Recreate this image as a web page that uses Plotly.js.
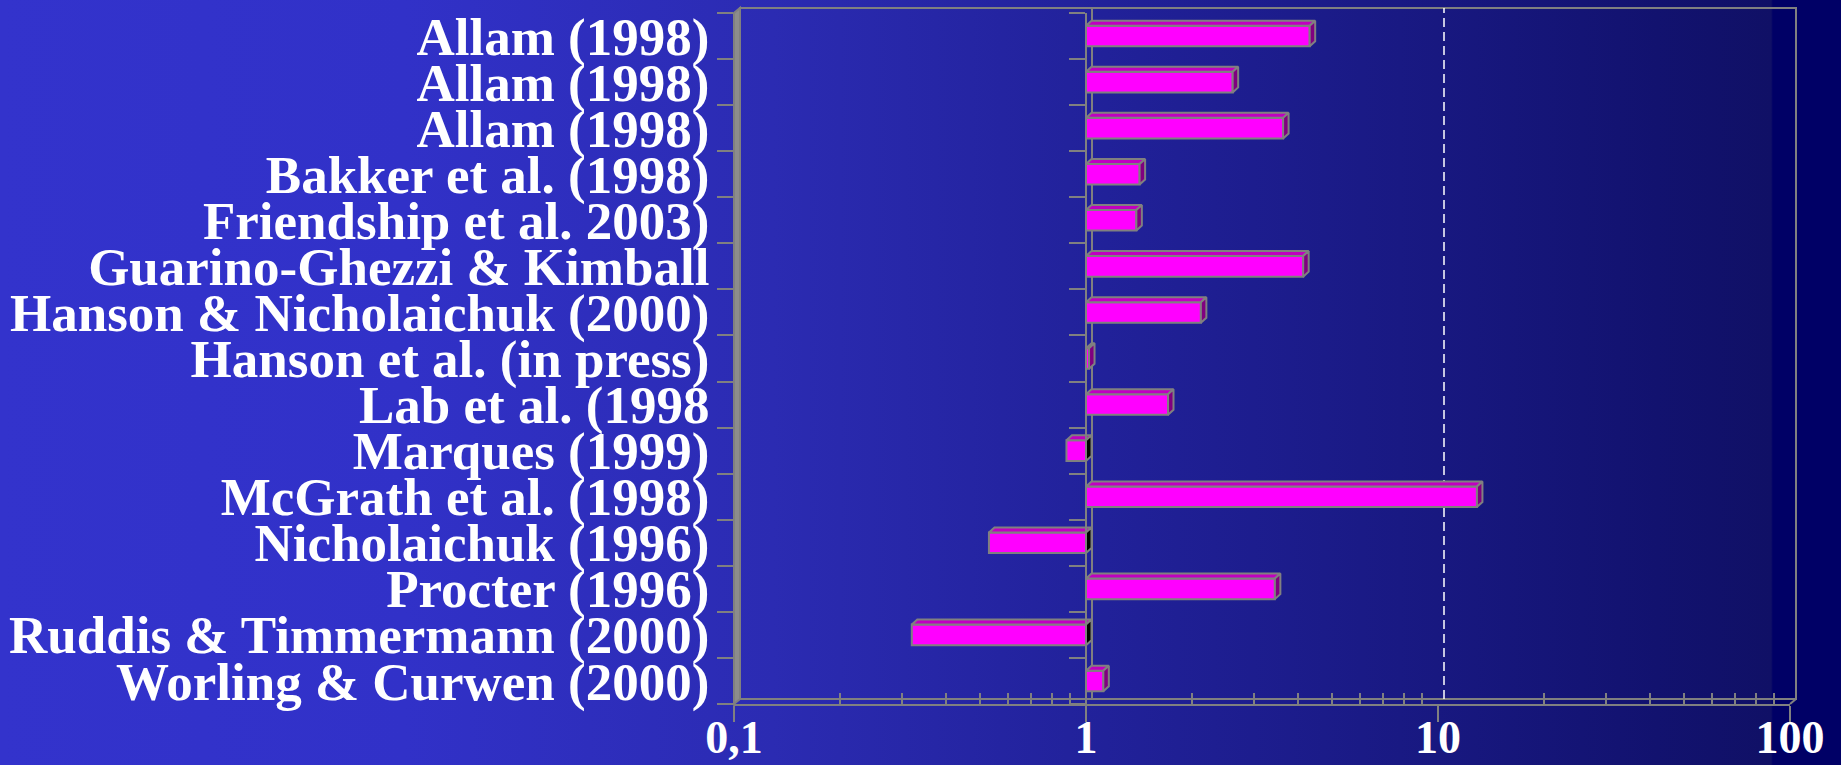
<!DOCTYPE html>
<html>
<head>
<meta charset="utf-8">
<script src="https://cdn.plot.ly/plotly-3.0.1.min.js"></script>
<style>
html, body { margin: 0; padding: 0; width: 1841px; height: 765px; overflow: hidden;
  background: linear-gradient(to right, #3333cc 0%, #3131c8 22%, #2b2bb2 42%, #22229c 58%, #1a1a86 74%, #12126f 90%, #101066 96.2%, #000066 96.3%, #000066 100%); }
#chart { width: 1841px; height: 765px; }
</style>
</head>
<body>
<div id="chart"></div>
<script>
// ---------------- data ----------------
const categories = [
  "Allam (1998)",
  "Allam (1998)",
  "Allam (1998)",
  "Bakker et al. (1998)",
  "Friendship et al. 2003)",
  "Guarino-Ghezzi & Kimball",
  "Hanson & Nicholaichuk (2000)",
  "Hanson et al. (in press)",
  "Lab et al. (1998",
  "Marques (1999)",
  "McGrath et al. (1998)",
  "Nicholaichuk (1996)",
  "Procter (1996)",
  "Ruddis & Timmermann (2000)",
  "Worling & Curwen (2000)"
];
const ratios = [4.32, 2.61, 3.63, 1.42, 1.39, 4.14, 2.12, 1.02, 1.71, 0.88, 12.9, 0.53, 3.44, 0.32, 1.12];
const baseline = 1;
const xTickVals = [0.1, 1, 10, 100];
const xTickText = ["0,1", "1", "10", "100"];
const gridValue = 10;

// ---------------- style / geometry ----------------
const GRAY = '#808080';
const FONT = '"Liberation Serif", "Times New Roman", Times, serif';
const M = { l: 734, r: 51, t: 13, b: 61, pad: 0 };
const PW = 1841 - M.l - M.r, PH = 765 - M.t - M.b;
const xRange = [-1, 2];
const pxPerDecade = PW / (xRange[1] - xRange[0]);
const rowPx = PH / categories.length;
const barWidth = 0.447;
const barDepthX = 5.5, barDepthY = 5;
const wallDepthX = 6, wallDepthY = 5;

const idx = categories.map((_, i) => i);
const bounds = categories.map((_, i) => i - 0.5).concat([categories.length - 0.5]);
const yRange = [categories.length - 0.5, -0.5];

// minor log ticks (2..9 in each decade)
const minorVals = [];
for (let d = xRange[0]; d < xRange[1]; d++) {
  for (let k = 2; k <= 9; k++) minorVals.push(k * Math.pow(10, d));
}

// 3D faces of the bars, built from the data values
const kx = Math.pow(10, barDepthX / pxPerDecade);
const dyc = barDepthY / rowPx;
const half = barWidth / 2;
const topX = [], topY = [], sidePX = [], sidePY = [], sideNX = [], sideNY = [];
ratios.forEach((r, i) => {
  const lo = Math.min(r, baseline), hi = Math.max(r, baseline);
  const yt = i - half, yb = i + half;
  topX.push(lo, hi, hi * kx, lo * kx, lo, null);
  topY.push(yt, yt, yt - dyc, yt - dyc, yt, null);
  const sx = r >= baseline ? sidePX : sideNX;
  const sy = r >= baseline ? sidePY : sideNY;
  sx.push(hi, hi * kx, hi * kx, hi, hi, null);
  sy.push(yt, yt - dyc, yb - dyc, yb, yt, null);
});

const traces = [
  {
    type: 'bar', orientation: 'h',
    y: idx, x: ratios.map(r => r - baseline), base: baseline,
    width: barWidth,
    marker: { color: '#ff00ff', line: { color: GRAY, width: 2 } },
    xaxis: 'x', yaxis: 'y', hoverinfo: 'skip', showlegend: false
  },
  {
    type: 'scatter', mode: 'lines', x: topX, y: topY, fill: 'toself',
    fillcolor: '#c000c0', line: { color: GRAY, width: 2 },
    xaxis: 'x', yaxis: 'y2', hoverinfo: 'skip', showlegend: false
  },
  {
    type: 'scatter', mode: 'lines', x: sidePX, y: sidePY, fill: 'toself',
    fillcolor: '#800080', line: { color: GRAY, width: 2 },
    xaxis: 'x', yaxis: 'y3', hoverinfo: 'skip', showlegend: false
  },
  {
    type: 'scatter', mode: 'lines', x: sideNX, y: sideNY, fill: 'toself',
    fillcolor: '#000000', line: { color: GRAY, width: 2 },
    xaxis: 'x', yaxis: 'y3', hoverinfo: 'skip', showlegend: false
  }
];

const wdx = wallDepthX / PW, wdy = wallDepthY / PH;

const layout = {
  width: 1841, height: 765,
  margin: M,
  paper_bgcolor: 'rgba(0,0,0,0)',
  plot_bgcolor: 'rgba(0,0,0,0)',
  showlegend: false,
  hovermode: false,
  bargap: 0,
  xaxis: {
    type: 'log', range: xRange, fixedrange: true,
    tickmode: 'array', tickvals: xTickVals, ticktext: xTickText,
    ticks: 'outside', ticklen: 16, tickwidth: 2, tickcolor: GRAY,
    ticklabelstandoff: -24,
    showline: true, linecolor: GRAY, linewidth: 2,
    showgrid: false, zeroline: false,
    tickfont: { family: FONT, size: 46, color: '#ffffff', weight: 'bold' },
    minor: { tickmode: 'array', tickvals: minorVals, ticks: 'inside', ticklen: 11,
             tickwidth: 2, tickcolor: GRAY, showgrid: false }
  },
  yaxis: {
    range: yRange, fixedrange: true,
    tickmode: 'array', tickvals: idx, ticktext: categories,
    ticks: 'outside', ticklen: 16, tickcolor: 'rgba(0,0,0,0)',
    ticklabelstandoff: -3,
    showline: false, showgrid: false, zeroline: false,
    tickfont: { family: FONT, size: 53, color: '#ffffff', weight: 'bold' }
  },
  yaxis2: {
    overlaying: 'y', anchor: 'x', side: 'left',
    range: yRange, fixedrange: true,
    tickmode: 'array', tickvals: bounds, showticklabels: false,
    ticks: 'outside', ticklen: 16, tickwidth: 2, tickcolor: GRAY,
    showline: false, showgrid: false, zeroline: false
  },
  yaxis3: {
    overlaying: 'y', anchor: 'free', side: 'left',
    position: (Math.log10(baseline) - xRange[0]) / (xRange[1] - xRange[0]),
    range: yRange, fixedrange: true,
    tickmode: 'array', tickvals: bounds, showticklabels: false,
    ticks: 'outside', ticklen: 16, tickwidth: 2, tickcolor: GRAY,
    showline: true, linecolor: GRAY, linewidth: 2,
    showgrid: false, zeroline: false
  },
  shapes: [
    // back wall outline
    { type: 'rect', xref: 'paper', yref: 'paper', x0: wdx, x1: 1 + wdx, y0: wdy, y1: 1 + wdy,
      line: { color: GRAY, width: 2 }, layer: 'below' },
    // floor right edge
    { type: 'line', xref: 'paper', yref: 'paper', x0: 1, y0: 0, x1: 1 + wdx, y1: wdy,
      line: { color: GRAY, width: 2 }, layer: 'below' },
    // left wall (thick)
    { type: 'path', xref: 'paper', yref: 'paper',
      path: `M0,0 L${wdx},${wdy} L${wdx},${1 + wdy} L0,1 Z`,
      fillcolor: '#8c8c8c', line: { color: GRAY, width: 2 }, layer: 'below' },
    // dashed gridline on back wall
    { type: 'line', xref: 'x', xsizemode: 'pixel', xanchor: gridValue, x0: wallDepthX, x1: wallDepthX,
      yref: 'paper', y0: wdy, y1: 1 + wdy,
      line: { color: '#ffffff', width: 1.5, dash: '9px,5px' }, layer: 'below' },
    // category axis line on back wall at baseline
    { type: 'line', xref: 'x', xsizemode: 'pixel', xanchor: baseline, x0: wallDepthX, x1: wallDepthX,
      yref: 'paper', y0: wdy, y1: 1 + wdy,
      line: { color: GRAY, width: 2 }, layer: 'below' }
  ]
};

Plotly.newPlot('chart', traces, layout, { displayModeBar: false, staticPlot: true });
</script>
</body>
</html>
